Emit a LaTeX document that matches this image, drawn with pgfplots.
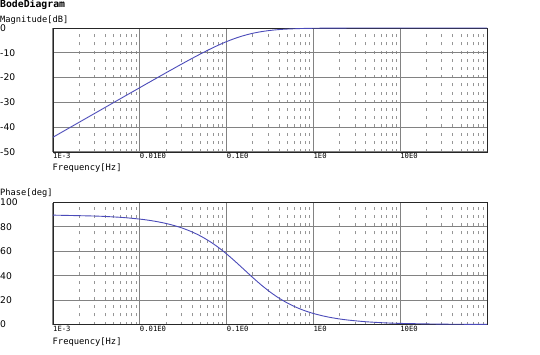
\documentclass[border=0pt]{standalone}
\usepackage{fontspec}
\setmainfont{DejaVu Sans}
\newfontfamily\monofont{DejaVu Sans Mono}
\usepackage{pgfplots}
\pgfplotsset{compat=1.18}
\pgfkeys{/pgf/number format/assume math mode=true}
\definecolor{curve}{RGB}{75,75,185}
\definecolor{gridc}{RGB}{130,130,130}
\definecolor{minorc}{RGB}{150,150,150}

\begin{document}
\begin{tikzpicture}
\path[use as bounding box] (0,0) rectangle (540pt,-354pt);

\node[anchor=base west, inner sep=0pt, font=\monofont\bfseries\fontsize{9.8}{11}\selectfont] at (0,-7.6pt) {BodeDiagram};
\node[anchor=base west, inner sep=0pt, font=\monofont\fontsize{8.7}{10}\selectfont] at (0,-22.3pt) {Magnitude[dB]};
\node[anchor=base west, inner sep=0pt, font=\monofont\fontsize{8.8}{10}\selectfont] at (52.5pt,-170.5pt) {Frequency[Hz]};
\node[anchor=base west, inner sep=0pt, font=\monofont\fontsize{8.7}{10}\selectfont] at (0,-195.7pt) {Phase[deg]};
\node[anchor=base west, inner sep=0pt, font=\monofont\fontsize{8.8}{10}\selectfont] at (52.5pt,-344pt) {Frequency[Hz]};

\begin{axis}[xmode=log, scale only axis, width=434pt, height=124pt,
  at={(53pt,-28pt)}, anchor=north west,
  xmin=1e-3, xmax=1e2, ymin=-50, ymax=0, ytick={-50,-40,-30,-20,-10,0},
  xtick={0.001,0.01,0.1,1,10},
  xticklabels={1E-3,0.01E0,0.1E0,1E0,10E0},
  minor xtick={0.002,0.003,0.004,0.005,0.006,0.007,0.008,0.009,
    0.02,0.03,0.04,0.05,0.06,0.07,0.08,0.09,
    0.2,0.3,0.4,0.5,0.6,0.7,0.8,0.9,
    2,3,4,5,6,7,8,9,
    20,30,40,50,60,70,80,90},
  xmajorgrids, xminorgrids, ymajorgrids,
  major grid style={gridc, line width=1pt},
  minor grid style={minorc, line width=0.55pt, dash pattern=on 3pt off 5.2pt},
  major tick length=0pt, minor tick length=0pt,
  axis line style={black!85, line width=0.9pt},
  xticklabel style={font=\monofont\fontsize{7.2}{8}\selectfont, anchor=north west, inner sep=0pt, yshift=-1.3pt},
  yticklabel style={font=\fontsize{9.2}{10}\selectfont, anchor=west, inner sep=0pt, xshift=-53pt},
  clip=false]
\addplot[curve, line width=0.9pt, smooth] coordinates {
(0.001,-44.04) (0.003162,-34.04) (0.00631,-28.04) (0.01,-24.05) (0.01259,-22.06)
(0.01585,-20.08) (0.01995,-18.10) (0.02512,-16.14) (0.03162,-14.20) (0.03981,-12.30)
(0.05012,-10.45) (0.0631,-8.67) (0.07943,-7.00) (0.1,-5.48) (0.1259,-4.15)
(0.1585,-3.03) (0.1995,-2.14) (0.2512,-1.47) (0.3162,-0.98) (0.3981,-0.64)
(0.5012,-0.42) (0.631,-0.27) (0.7943,-0.17) (1,-0.11) (1.259,-0.069)
(1.585,-0.044) (1.995,-0.028) (2.512,-0.017) (3.981,-0.007) (10,-0.001) (100,0)
};
\end{axis}

\begin{axis}[xmode=log, scale only axis, width=434pt, height=122pt,
  at={(53pt,-202.5pt)}, anchor=north west,
  xmin=1e-3, xmax=1e2, ymin=0, ymax=100, ytick={0,20,40,60,80,100},
  xtick={0.001,0.01,0.1,1,10},
  xticklabels={1E-3,0.01E0,0.1E0,1E0,10E0},
  minor xtick={0.002,0.003,0.004,0.005,0.006,0.007,0.008,0.009,
    0.02,0.03,0.04,0.05,0.06,0.07,0.08,0.09,
    0.2,0.3,0.4,0.5,0.6,0.7,0.8,0.9,
    2,3,4,5,6,7,8,9,
    20,30,40,50,60,70,80,90},
  xmajorgrids, xminorgrids, ymajorgrids,
  major grid style={gridc, line width=1pt},
  minor grid style={minorc, line width=0.55pt, dash pattern=on 3pt off 5.2pt},
  major tick length=0pt, minor tick length=0pt,
  axis line style={black!85, line width=0.9pt},
  xticklabel style={font=\monofont\fontsize{7.2}{8}\selectfont, anchor=north west, inner sep=0pt, yshift=-1.3pt},
  yticklabel style={font=\fontsize{9.2}{10}\selectfont, anchor=west, inner sep=0pt, xshift=-53pt},
  clip=false]
\addplot[curve, line width=0.9pt, smooth] coordinates {
(0.001,89.64) (0.003162,88.86) (0.00631,87.73) (0.01,86.40) (0.01259,85.48)
(0.01585,84.31) (0.01995,82.86) (0.02512,81.03) (0.03162,78.76) (0.03981,75.96)
(0.05012,72.51) (0.0631,68.35) (0.07943,63.48) (0.1,57.86) (0.1259,51.64)
(0.1585,45.12) (0.1995,38.60) (0.2512,32.36) (0.3162,26.72) (0.3981,21.79)
(0.5012,17.62) (0.631,14.16) (0.7943,11.33) (1,9.04) (1.259,7.21)
(1.585,5.73) (1.995,4.56) (2.512,3.63) (3.981,2.29) (6.31,1.445)
(10,0.912) (31.62,0.288) (100,0.091)
};
\end{axis}
\end{tikzpicture}
\end{document}
